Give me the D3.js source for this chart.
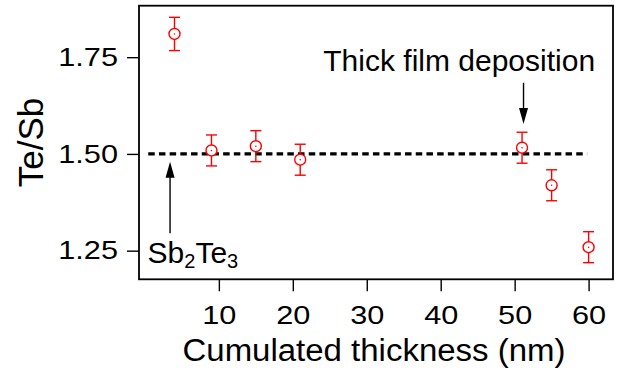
<!DOCTYPE html>
<html>
<head>
<meta charset="utf-8">
<script src="https://cdn.jsdelivr.net/npm/d3@7"></script>
<style>
body { margin: 0; background: #fff; }
text { font-family: "Liberation Sans", Arial, Helvetica, sans-serif; fill: #000; }
</style>
</head>
<body>
<svg id="chart" width="625" height="372"></svg>
<script>
/* global d3 */

// measured points: Te/Sb ratio vs cumulated thickness
var thickness = [4, 9, 15, 21, 51, 55, 60],
ratio = [1.81, 1.509, 1.52, 1.485, 1.516, 1.419, 1.259],
ratioErr = [0.043, 0.04, 0.04, 0.04, 0.04, 0.04, 0.04],
xTicks = [10, 20, 30, 40, 50, 60],
yTicks = [1.25, 1.5, 1.75],
stoichRatio = 1.5,
stoichRange = [0.45, 59.8];

// annotations, in data units
var arrowX = [51.2, 3.4],
arrowFromY = [1.684, 1.295],
arrowToY = [1.577, 1.48];

var red = '#ff0000',
mLeft = 139, mRight = 613, mTop = 5.7, mBottom = 279.3;

var svg = d3.select('#chart');

var x = d3.scaleLinear().domain([-0.8, 63.3]).range([mLeft, mRight]);
var y = d3.scaleLinear().domain([1.176, 1.883]).range([mBottom, mTop]);

// stoichiometric line
svg.append('line').
attr('x1', x(stoichRange[0])).
attr('x2', x(stoichRange[1])).
attr('y1', y(stoichRatio)).
attr('y2', y(stoichRatio)).
attr('stroke', '#000').
attr('stroke-width', 3.2).
attr('stroke-dasharray', '6.5,4.2');

// axes
svg.append('g').
attr('transform', 'translate(0,' + mBottom + ')').
call(d3.axisBottom(x).tickValues(xTicks).tickSize(12).tickSizeOuter(0).tickPadding(14));

svg.append('g').
attr('transform', 'translate(' + mLeft + ',0)').
call(d3.axisLeft(y).tickValues(yTicks).tickSize(12).tickSizeOuter(0).tickPadding(9).
tickFormat(d3.format('.2f')));

svg.selectAll('.domain').remove();
svg.selectAll('.tick line').attr('stroke', '#000').attr('stroke-width', 1.4);
svg.selectAll('.tick text').
attr('font-family', null).
attr('font-size', null).
style('font-family', '"Liberation Sans", Arial, sans-serif').
style('font-size', '26px').
each(function () {
  var len = this.getComputedTextLength();
  d3.select(this).attr('textLength', len * 1.18).attr('lengthAdjust', 'spacingAndGlyphs');
});

// frame
svg.append('rect').
attr('x', mLeft).
attr('y', mTop).
attr('width', mRight - mLeft).
attr('height', mBottom - mTop).
attr('fill', 'none').
attr('stroke', '#000').
attr('stroke-width', 1.8);

// error bars + markers
var pts = svg.append('g').
selectAll('g').
data(thickness).
enter().
append('g').
attr('stroke', red).
attr('stroke-width', 1.4).
attr('fill', 'none');

pts.append('line').
attr('x1', d => x(d)).
attr('x2', d => x(d)).
attr('y1', (d, i) => y(ratio[i] + ratioErr[i])).
attr('y2', (d, i) => y(ratio[i] - ratioErr[i]));

pts.append('line').
attr('x1', d => x(d) - 5.5).
attr('x2', d => x(d) + 5.5).
attr('y1', (d, i) => y(ratio[i] + ratioErr[i])).
attr('y2', (d, i) => y(ratio[i] + ratioErr[i]));

pts.append('line').
attr('x1', d => x(d) - 5.5).
attr('x2', d => x(d) + 5.5).
attr('y1', (d, i) => y(ratio[i] - ratioErr[i])).
attr('y2', (d, i) => y(ratio[i] - ratioErr[i]));

pts.append('circle').
attr('cx', d => x(d)).
attr('cy', (d, i) => y(ratio[i])).
attr('r', 5.5).
attr('fill', '#fff');

pts.append('circle').
attr('cx', d => x(d)).
attr('cy', (d, i) => y(ratio[i])).
attr('r', 0.8).
attr('fill', red).
attr('stroke', 'none');

// arrows
var arrows = svg.append('g').
selectAll('g').
data(arrowX).
enter().
append('g');

arrows.append('line').
attr('x1', d => x(d)).
attr('x2', d => x(d)).
attr('y1', (d, i) => y(arrowFromY[i])).
attr('y2', (d, i) => y(arrowToY[i]) + (arrowToY[i] < arrowFromY[i] ? -10 : 10)).
attr('stroke', '#000').
attr('stroke-width', 1.4);

arrows.append('path').
attr('d', function (d, i) {
  var tx = x(d),
  ty = y(arrowToY[i]),
  s = arrowToY[i] < arrowFromY[i] ? -1 : 1;
  return 'M' + tx + ',' + ty + 'L' + (tx - 4.5) + ',' + (ty + s * 16) + 'L' + (tx + 4.5) + ',' + (ty + s * 16) + 'Z';
}).
attr('fill', '#000');

// labels
svg.append('text').
attr('x', x(42.5)).
attr('y', y(1.713)).
attr('text-anchor', 'middle').
style('font-size', '30px').
text('Thick film deposition');

var sb = svg.append('text').
attr('x', x(0.36)).
attr('y', y(1.219)).
style('font-size', '30px');
sb.append('tspan').text('Sb');
sb.append('tspan').attr('dy', 5.6).style('font-size', '20px').text('2');
sb.append('tspan').attr('dy', -5.6).text('Te');
sb.append('tspan').attr('dy', 5.6).style('font-size', '20px').text('3');

svg.append('text').
attr('x', 374).
attr('y', 360.7).
attr('text-anchor', 'middle').
attr('textLength', 383).
attr('lengthAdjust', 'spacingAndGlyphs').
style('font-size', '31px').
text('Cumulated thickness (nm)');

svg.append('text').
attr('transform', 'translate(43.3,142.5) rotate(-90)').
attr('text-anchor', 'middle').
style('font-size', '35px').
text('Te/Sb');
</script>
</body>
</html>
